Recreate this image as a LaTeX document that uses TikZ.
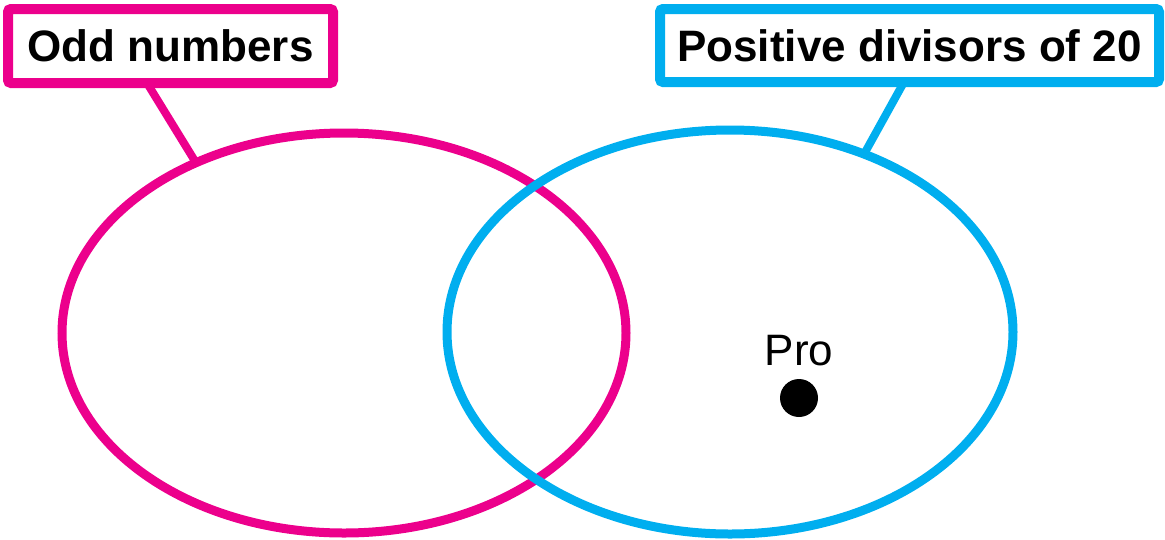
\documentclass[tikz,border=0pt]{standalone}
\usepackage{fontspec}
\setmainfont{Liberation Sans}
\usetikzlibrary{shapes.geometric}
\definecolor{mag}{HTML}{EC008C}
\definecolor{cya}{HTML}{00AEEF}
\begin{document}
\begin{tikzpicture}[x=1pt,y=-1pt,
  setshape/.style={ellipse, draw=#1, line width=9pt, outer sep=0pt, inner sep=0pt},
  labelbox/.style={rectangle, draw=#1, line width=10pt, rounded corners=3pt, fill=white, outer sep=0pt, inner sep=0pt, font=\fontsize{44}{52}\selectfont\bfseries},
  link/.style={draw=#1, line width=8pt}]
\useasboundingbox (0,0) rectangle (1165,539);
\node[setshape=mag, minimum width=564pt, minimum height=400pt] (odd) at (344,333) {};
\node[setshape=cya, minimum width=566pt, minimum height=404pt] (div) at (730,332) {};
\node[labelbox=mag, minimum width=325pt, minimum height=74pt] (oddbox) at (170.5,46) {Odd numbers};
\node[labelbox=cya, minimum width=499pt, minimum height=73pt] (divbox) at (909.5,45.5) {Positive divisors of 20};
\draw[link=mag] ([xshift=-23.5pt]oddbox.south) -- (odd.131);
\draw[link=cya] ([xshift=-5.5pt]divbox.south) -- (div.53.5);
\node[anchor=base, font=\fontsize{44}{52}\selectfont] (pro) at (799,365) {Pro};
\node[circle, fill=black, minimum size=38pt, inner sep=0pt] (dot) at (799,398) {};
\end{tikzpicture}
\end{document}
